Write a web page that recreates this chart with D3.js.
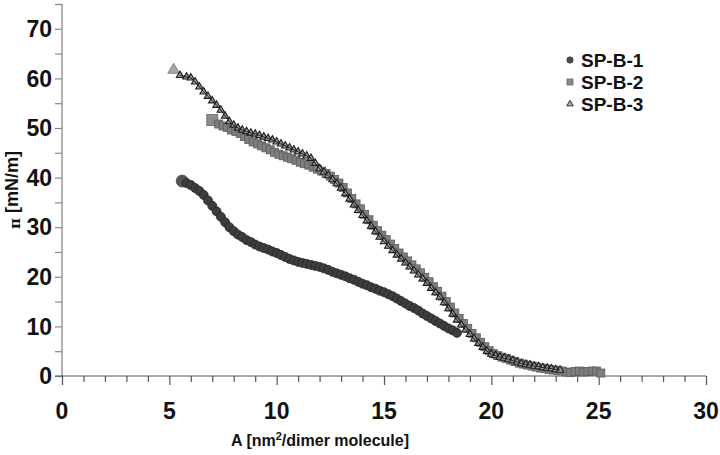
<!DOCTYPE html>
<html>
<head>
<meta charset="utf-8">
<script src="https://cdn.jsdelivr.net/npm/d3@7"></script>
<style>
  html, body { margin: 0; padding: 0; background: #fff; }
  svg { display: block; }
  text { font-family: "Liberation Sans", Arial, sans-serif; font-weight: bold; fill: #111; }
</style>
</head>
<body>
<svg id="chart" width="720" height="455"></svg>
<script>
// ---- data ----
const seriesNames = ["SP-B-1", "SP-B-2", "SP-B-3"];
const xTickLabels = [0, 5, 10, 15, 20, 25, 30];
const yTickLabels = [0, 10, 20, 30, 40, 50, 60, 70];

const spb1 = [[5.6,39.3],[5.8,38.9],[6.0,38.5],[6.2,37.9],[6.4,37.3],[6.6,36.5],[6.8,35.4],[7.0,34.3],[7.2,33.2],[7.4,32.1],[7.6,31.0],[7.8,30.0],[8.0,29.2],[8.2,28.5],[8.4,28.0],[8.6,27.4],[8.8,27.0],[9.0,26.5],[9.2,26.1],[9.4,25.8],[9.6,25.5],[9.8,25.1],[10.0,24.8],[10.2,24.4],[10.4,24.0],[10.6,23.6],[10.8,23.3],[11.0,23.0],[11.2,22.8],[11.4,22.6],[11.6,22.4],[11.8,22.2],[12.0,22.0],[12.2,21.7],[12.4,21.4],[12.6,21.0],[12.8,20.7],[13.0,20.4],[13.2,20.1],[13.4,19.7],[13.6,19.4],[13.8,19.0],[14.0,18.6],[14.2,18.3],[14.4,17.9],[14.6,17.6],[14.8,17.2],[15.0,16.9],[15.2,16.5],[15.4,16.1],[15.6,15.6],[15.8,15.1],[16.0,14.6],[16.2,14.1],[16.4,13.7],[16.6,13.2],[16.8,12.6],[17.0,12.1],[17.2,11.6],[17.4,11.1],[17.6,10.6],[17.8,10.1],[18.0,9.6],[18.2,9.2],[18.4,8.7]];

const spb2 = [[7.0,51.6],[7.3,50.8],[7.5,50.4],[7.7,50.1],[7.9,49.6],[8.1,49.3],[8.3,48.9],[8.5,48.3],[8.7,47.7],[8.9,47.2],[9.1,46.8],[9.3,46.4],[9.5,46.0],[9.7,45.6],[9.9,45.1],[10.1,44.7],[10.3,44.4],[10.5,44.1],[10.7,43.8],[10.9,43.5],[11.1,43.1],[11.3,42.8],[11.5,42.5],[11.7,42.1],[11.9,41.7],[12.1,41.3],[12.3,40.8],[12.5,40.3],[12.7,39.6],[12.9,38.9],[13.1,38.0],[13.3,36.9],[13.5,35.8],[13.7,34.7],[13.9,33.7],[14.1,32.6],[14.3,31.5],[14.5,30.4],[14.7,29.3],[14.9,28.4],[15.1,27.5],[15.3,26.6],[15.5,25.7],[15.7,24.8],[15.9,24.0],[16.1,23.2],[16.3,22.4],[16.5,21.6],[16.7,20.8],[16.9,19.9],[17.1,19.0],[17.3,18.0],[17.5,17.1],[17.7,16.1],[17.9,15.0],[18.1,13.9],[18.3,12.7],[18.5,11.6],[18.7,10.6],[18.9,9.6],[19.1,8.6],[19.3,7.7],[19.5,6.8],[19.7,5.9],[19.9,5.1],[20.1,4.5],[20.3,4.1],[20.5,3.8],[20.7,3.5],[20.9,3.2],[21.1,2.9],[21.3,2.6],[21.5,2.4],[21.7,2.2],[21.9,2.0],[22.1,1.8],[22.3,1.6],[22.5,1.5],[22.7,1.3],[22.9,1.2],[23.1,1.1],[23.3,1.0],[23.5,0.8],[23.7,0.7],[23.9,0.9],[24.1,1.0],[24.3,0.8],[24.5,0.9],[24.7,1.0],[24.9,1.0],[25.1,0.6]];

const spb3 = [[5.2,61.7],[5.5,60.6],[5.8,60.3],[6.0,60.1],[6.2,59.3],[6.4,58.3],[6.6,57.3],[6.8,56.4],[7.0,55.5],[7.2,54.6],[7.4,53.6],[7.6,52.4],[7.8,51.3],[8.0,50.6],[8.2,50.0],[8.4,49.6],[8.6,49.3],[8.8,49.0],[9.0,48.8],[9.2,48.5],[9.4,48.2],[9.6,47.9],[9.8,47.6],[10.0,47.2],[10.2,46.8],[10.4,46.4],[10.6,46.0],[10.8,45.6],[11.0,45.2],[11.2,44.8],[11.4,44.4],[11.6,43.9],[11.8,42.9],[12.0,41.8],[12.2,41.1],[12.4,40.4],[12.6,39.6],[12.8,38.8],[13.0,37.9],[13.2,36.8],[13.4,35.7],[13.6,34.5],[13.8,33.4],[14.0,32.4],[14.2,31.3],[14.4,30.2],[14.6,29.1],[14.8,28.0],[15.0,27.1],[15.2,26.2],[15.4,25.3],[15.6,24.4],[15.8,23.6],[16.0,22.8],[16.2,22.0],[16.4,21.2],[16.6,20.4],[16.8,19.6],[17.0,18.7],[17.2,17.7],[17.4,16.8],[17.6,15.9],[17.8,14.8],[18.0,13.6],[18.2,12.5],[18.4,11.3],[18.6,10.3],[18.8,9.3],[19.0,8.4],[19.2,7.5],[19.4,6.6],[19.6,5.8],[19.8,5.0],[20.0,4.4],[20.2,4.1],[20.4,3.8],[20.6,3.6],[20.8,3.4],[21.0,3.1],[21.2,2.8],[21.4,2.5],[21.6,2.3],[21.8,2.2],[22.0,2.0],[22.2,1.9],[22.4,1.7],[22.6,1.6],[22.8,1.5],[23.0,1.3],[23.2,1.2]];

// ---- layout ----
const svg = d3.select("#chart");
const x = d3.scaleLinear().domain([0, 30]).range([62, 706]);
const y = d3.scaleLinear().domain([0, 75]).range([376, 4]);

// y axis
const yAxis = d3.axisLeft(y).tickValues(d3.range(0, 76, 5)).tickSize(7).tickFormat("");
const gy = svg.append("g").attr("transform", `translate(${x(0)},0)`).call(yAxis);
gy.select(".domain").attr("stroke", "#888").attr("stroke-width", 1.3).attr("d", `M0,${y(75)}V${y(0)}`);
gy.selectAll(".tick line").attr("stroke", "#888").attr("stroke-width", 1.2);
svg.append("g").selectAll("text").data(yTickLabels).join("text")
  .attr("x", x(0) - 10).attr("y", d => y(d)).attr("dy", "0.36em")
  .attr("text-anchor", "end").style("font-size", "23px").text(d => d);

// x axis
const xAxis = d3.axisBottom(x).tickValues(d3.range(0, 31, 1)).tickSize(7).tickFormat("");
const gx = svg.append("g").attr("transform", `translate(0,${y(0)})`).call(xAxis);
gx.select(".domain").attr("stroke", "#555").attr("stroke-width", 1.2).attr("d", `M${x(0)-7},0H${x(30)}`);
gx.selectAll(".tick line").attr("stroke", "#555").attr("stroke-width", 1.2)
  .attr("y2", d => d % 5 === 0 ? 9 : 6);
svg.append("g").selectAll("text").data(xTickLabels).join("text")
  .attr("x", d => x(d)).attr("y", 419)
  .attr("text-anchor", "middle").style("font-size", "23px").text(d => d);

// axis titles
const xt = svg.append("text").attr("x", 320).attr("y", 446).attr("text-anchor", "middle").style("font-size", "16px");
xt.append("tspan").text("A [nm");
xt.append("tspan").attr("dy", -6).style("font-size", "11px").text("2");
xt.append("tspan").attr("dy", 6).text("/dimer molecule]");

const yt = svg.append("text").attr("transform", "translate(18,190) rotate(-90)").attr("text-anchor", "middle").style("font-size", "18px");
yt.append("tspan").style("font-family", "DejaVu Serif, serif").style("font-size", "15px").attr("dy", 2).text("π");
yt.append("tspan").attr("dy", -2).text(" [mN/m]");

// ---- marks ----
// SP-B-1 circles
svg.append("g").selectAll("circle").data(spb1).join("circle")
  .attr("cx", d => x(d[0])).attr("cy", d => y(d[1]))
  .attr("r", (d, i) => i === 0 ? 6 : 4.5)
  .attr("fill", (d, i) => i === 0 ? "#555" : "#3d3d3d")
  .attr("stroke", (d, i) => i === 0 ? "#444" : "#262626").attr("stroke-width", 0.8);

// SP-B-2 squares
svg.append("g").selectAll("rect").data(spb2).join("rect")
  .attr("x", (d, i) => x(d[0]) - (i === 0 ? 5.5 : 4))
  .attr("y", (d, i) => y(d[1]) - (i === 0 ? 5.5 : 4))
  .attr("width", (d, i) => i === 0 ? 11 : 8)
  .attr("height", (d, i) => i === 0 ? 11 : 8)
  .attr("fill", (d, i) => i === 0 ? "#8c8c8c" : "#7e7e7e")
  .attr("stroke", (d, i) => i === 0 ? "#6a6a6a" : "#5c5c5c").attr("stroke-width", 0.8);

// SP-B-3 triangles with thin connecting line
const tri = d3.symbol().type(d3.symbolTriangle);
svg.append("g").selectAll("path").data(spb3).join("path")
  .attr("transform", d => `translate(${x(d[0])},${y(d[1])})`)
  .attr("d", (d, i) => tri.size(i === 0 ? 60 : 24)())
  .attr("fill", (d, i) => i === 0 ? "#a6a6a6" : "#9a9a9a")
  .attr("stroke", (d, i) => i === 0 ? "#777" : "#1e1e1e").attr("stroke-width", (d, i) => i === 0 ? 0.8 : 1.1);
svg.append("path").datum(spb3.slice(1))
  .attr("fill", "none").attr("stroke", "#1a1a1a").attr("stroke-width", 1)
  .attr("d", d3.line().x(d => x(d[0])).y(d => y(d[1])));

// ---- legend ----
const legY = [60, 82, 104];
const leg = svg.append("g");
seriesNames.forEach((name, i) => {
  const cy = legY[i];
  if (i === 0) leg.append("circle").attr("cx", 570).attr("cy", cy).attr("r", 3.2).attr("fill", "#4a4a4a").attr("stroke", "#333").attr("stroke-width", 0.6);
  if (i === 1) leg.append("rect").attr("x", 567).attr("y", cy - 3).attr("width", 6).attr("height", 6).attr("fill", "#8a8a8a").attr("stroke", "#666").attr("stroke-width", 0.8);
  if (i === 2) leg.append("path").attr("transform", `translate(570,${cy})`).attr("d", tri.size(18)()).attr("fill", "#aaa").attr("stroke", "#333").attr("stroke-width", 1);
  leg.append("text").attr("x", 581).attr("y", cy).attr("dy", "0.36em").style("font-size", "19px").text(name);
});
</script>
</body>
</html>
